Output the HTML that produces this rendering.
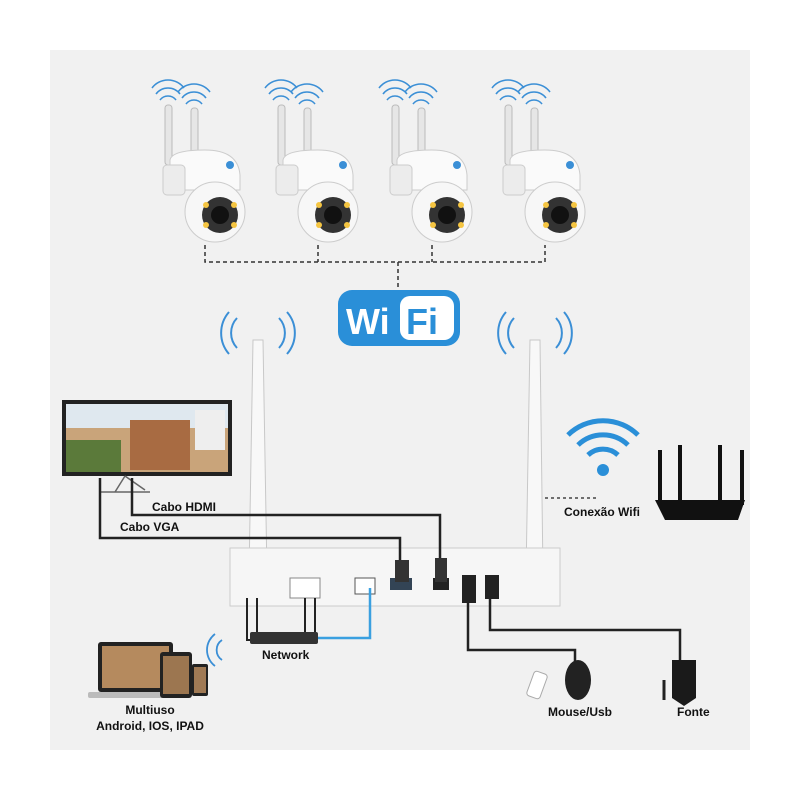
<!DOCTYPE html>
<html><head><meta charset="utf-8"><style>
html,body{margin:0;padding:0;background:#fff;}
svg{display:block;}
text{font-family:"Liberation Sans",sans-serif;font-weight:bold;fill:#111;}
</style></head><body>
<svg width="800" height="800" viewBox="0 0 800 800" xmlns="http://www.w3.org/2000/svg">
<rect x="0" y="0" width="800" height="800" fill="#fff"/>
<rect x="50" y="50" width="700" height="700" fill="#f1f1f1"/>

<!-- camera dashed network -->
<path d="M205 245 V262 H545 V245 M318 245 V262 M432 245 V262 M398 262 V290" stroke="#333" stroke-width="1.5" stroke-dasharray="4,3" fill="none"/>

<!-- cameras -->
<g id="cam">
  <path d="M160 100 a10 10 0 0 1 16 0 M156 94 a15 15 0 0 1 24 0 M152 88 a20 20 0 0 1 32 0" stroke="#3b8fd6" stroke-width="1.6" fill="none"/>
  <path d="M186 104 a10 10 0 0 1 16 0 M182 98 a15 15 0 0 1 24 0 M178 92 a20 20 0 0 1 32 0" stroke="#3b8fd6" stroke-width="1.6" fill="none"/>
  <rect x="165" y="105" width="7" height="60" rx="3" fill="#e6e6e6" stroke="#bbb"/>
  <rect x="191" y="108" width="7" height="55" rx="3" fill="#e6e6e6" stroke="#bbb"/>
  <path d="M170 160 Q172 150 205 150 Q238 150 240 175 L240 190 L170 190 Z" fill="#fafafa" stroke="#ccc"/>
  <rect x="163" y="165" width="22" height="30" rx="4" fill="#ececec" stroke="#ccc"/>
  <circle cx="215" cy="212" r="30" fill="#f7f7f7" stroke="#ccc"/>
  <circle cx="220" cy="215" r="18" fill="#333"/>
  <circle cx="220" cy="215" r="9" fill="#111"/>
  <circle cx="206" cy="205" r="3" fill="#f5c542"/><circle cx="234" cy="205" r="3" fill="#f5c542"/>
  <circle cx="206" cy="225" r="3" fill="#f5c542"/><circle cx="234" cy="225" r="3" fill="#f5c542"/>
  <circle cx="230" cy="165" r="4" fill="#3b8fd6"/>
</g>
<use href="#cam" x="113"/>
<use href="#cam" x="227"/>
<use href="#cam" x="340"/>

<!-- WiFi logo -->
<rect x="338" y="290" width="122" height="56" rx="14" fill="#2a8fd8"/>
<rect x="400" y="296" width="54" height="44" rx="10" fill="#fff"/>
<text x="346" y="334" font-size="36" style="fill:#fff">Wi</text>
<text x="406" y="334" font-size="36" style="fill:#2a8fd8">Fi</text>

<!-- NVR antennas -->
<path d="M237 348 a22 22 0 0 1 0 -30 M229 354 a32 32 0 0 1 0 -42 M279 348 a22 22 0 0 0 0 -30 M287 354 a32 32 0 0 0 0 -42" stroke="#3b8fd6" stroke-width="2" fill="none"/>
<path d="M514 348 a22 22 0 0 1 0 -30 M506 354 a32 32 0 0 1 0 -42 M556 348 a22 22 0 0 0 0 -30 M564 354 a32 32 0 0 0 0 -42" stroke="#3b8fd6" stroke-width="2" fill="none"/>
<path d="M253 340 L263 340 L267 575 L249 575 Z" fill="#f8f8f8" stroke="#c8c8c8"/>
<path d="M530 340 L540 340 L543 575 L526 575 Z" fill="#f8f8f8" stroke="#c8c8c8"/>

<!-- NVR -->
<rect x="230" y="548" width="330" height="58" fill="#f6f6f6" stroke="#ccc"/>
<rect x="290" y="578" width="30" height="20" fill="#fff" stroke="#888"/>
<rect x="355" y="578" width="20" height="16" fill="#fff" stroke="#555"/>
<rect x="390" y="578" width="22" height="12" fill="#345" />
<rect x="433" y="578" width="16" height="12" fill="#222"/>
<rect x="462" y="575" width="14" height="28" fill="#222"/>
<rect x="485" y="575" width="14" height="24" fill="#222"/>

<!-- monitor -->
<rect x="62" y="400" width="170" height="76" fill="#222"/>
<rect x="66" y="404" width="162" height="68" fill="#c9a47a"/>
<rect x="66" y="404" width="162" height="24" fill="#dfe8ef"/>
<rect x="130" y="420" width="60" height="50" fill="#a86b42"/>
<rect x="195" y="410" width="30" height="40" fill="#eee"/>
<rect x="66" y="440" width="55" height="32" fill="#5b7a3a"/>
<path d="M125 476 L115 492 M125 476 L145 490 M100 492 L150 492" stroke="#666" stroke-width="1.5"/>

<!-- cables -->
<path d="M132 478 V515 H440 V560" stroke="#222" stroke-width="2.5" fill="none"/>
<path d="M100 478 V538 H400 V565" stroke="#222" stroke-width="2.5" fill="none"/>
<rect x="395" y="560" width="14" height="22" fill="#333"/>
<rect x="435" y="558" width="12" height="24" fill="#333"/>
<path d="M370 588 V638 H300" stroke="#3aa0e0" stroke-width="2.5" fill="none"/>
<path d="M247 598 V640 H290 M257 598 V640 M305 598 V640 M315 598 V640" stroke="#222" stroke-width="2" fill="none"/>
<rect x="250" y="632" width="68" height="12" rx="2" fill="#333"/>
<path d="M468 600 V650 H575 V665" stroke="#222" stroke-width="2.5" fill="none"/>
<path d="M490 598 V630 H680 V660" stroke="#222" stroke-width="2.5" fill="none"/>

<!-- router -->
<path d="M588 455 a22 22 0 0 1 30 0 M578 445 a36 36 0 0 1 50 0 M568 435 a50 50 0 0 1 70 0" stroke="#2a8fd8" stroke-width="5" fill="none"/>
<circle cx="603" cy="470" r="6" fill="#2a8fd8"/>
<path d="M545 498 H596" stroke="#444" stroke-width="1.5" stroke-dasharray="3,3"/>
<path d="M660 450 V505 M680 445 V505 M720 445 V505 M742 450 V505" stroke="#111" stroke-width="4"/>
<path d="M655 500 L745 500 L738 520 L665 520 Z" fill="#111"/>

<!-- devices -->
<path d="M222 640 a12 12 0 0 0 0 20 M215 634 a20 20 0 0 0 0 32" stroke="#3b8fd6" stroke-width="1.8" fill="none"/>
<rect x="98" y="642" width="75" height="50" rx="3" fill="#222"/>
<rect x="102" y="646" width="67" height="42" fill="#b58a5e"/>
<rect x="88" y="692" width="95" height="6" rx="2" fill="#bbb"/>
<rect x="160" y="652" width="32" height="46" rx="3" fill="#222"/>
<rect x="163" y="656" width="26" height="38" fill="#9c7650"/>
<rect x="192" y="664" width="16" height="32" rx="2" fill="#222"/>
<rect x="194" y="667" width="12" height="26" fill="#a07a55"/>

<!-- mouse / usb / power -->
<ellipse cx="578" cy="680" rx="13" ry="20" fill="#222"/>
<rect x="530" y="672" width="14" height="26" rx="3" fill="#fff" stroke="#aaa" transform="rotate(20 537 685)"/>
<path d="M672 660 H696 V698 L684 706 L672 698 Z" fill="#1a1a1a"/>
<path d="M664 680 V700" stroke="#222" stroke-width="3"/>

<!-- labels -->
<text x="152" y="511" font-size="12">Cabo HDMI</text>
<text x="120" y="531" font-size="12">Cabo VGA</text>
<text x="564" y="516" font-size="12">Conexão Wifi</text>
<text x="262" y="659" font-size="12">Network</text>
<text x="150" y="714" font-size="12" text-anchor="middle">Multiuso</text>
<text x="150" y="730" font-size="12" text-anchor="middle">Android, IOS, IPAD</text>
<text x="548" y="716" font-size="12">Mouse/Usb</text>
<text x="677" y="716" font-size="12">Fonte</text>
</svg>
</body></html>
